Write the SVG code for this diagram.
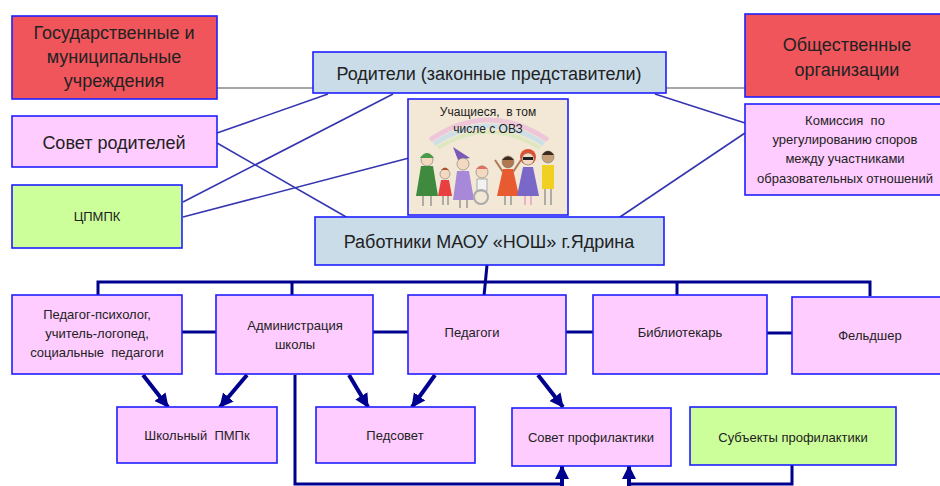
<svg xmlns="http://www.w3.org/2000/svg" width="940" height="486" viewBox="0 0 940 486">
<style>
.box{stroke:#1f1fff;stroke-width:1.6}
.red{fill:#f0555c}
.blue{fill:#c9dce8}
.pink{fill:#ffccff}
.green{fill:#ccff99}
text{font-family:"Liberation Sans",Arial,sans-serif;fill:#222;text-anchor:middle;white-space:pre}
.big{font-size:18px}
.sm{font-size:13px}
.thin{stroke:#3535b0;stroke-width:1.6;fill:none}
.gray{stroke:#888;stroke-width:1.6;fill:none}
.thick{stroke:#00008f;stroke-width:3;fill:none}
.arr{stroke:#00008f;stroke-width:4;fill:none;marker-end:url(#ah)}
</style>
<defs>
<marker id="ah" markerUnits="userSpaceOnUse" markerWidth="16" markerHeight="16" refX="13" refY="8" orient="auto">
<path d="M0,1 L14,8 L0,15 Z" fill="#00008f"/>
</marker>
</defs>
<rect width="940" height="486" fill="#fff"/>

<g id="connectors">
<line class="gray" x1="217" y1="88" x2="313" y2="88"/>
<line class="gray" x1="666" y1="88" x2="745" y2="88"/>
<line class="thin" x1="217" y1="133" x2="328" y2="94"/>
<line class="thin" x1="217" y1="143" x2="348" y2="218"/>
<line class="thin" x1="183" y1="202" x2="393" y2="94"/>
<line class="thin" x1="183" y1="217" x2="409" y2="158"/>
<line class="thin" x1="655" y1="94" x2="745" y2="123"/>
<line class="thin" x1="745" y1="133" x2="617" y2="219"/>
<polyline class="thick" points="98,296 98,282 870,282 870,296"/>
<line class="thick" x1="292" y1="282" x2="292" y2="296"/>
<line class="thick" x1="677" y1="282" x2="677" y2="296"/>
<line class="thick" x1="487" y1="265" x2="484" y2="296"/>
<line class="thick" x1="182" y1="332" x2="216" y2="332"/>
<line class="thick" x1="373" y1="332" x2="408" y2="332"/>
<line class="thick" x1="566" y1="332" x2="593" y2="332"/>
<line class="thick" x1="767" y1="333" x2="792" y2="333"/>
<line class="arr" x1="143" y1="375" x2="168" y2="407"/>
<line class="arr" x1="247" y1="375" x2="220" y2="407"/>
<line class="arr" x1="349" y1="375" x2="368" y2="407"/>
<line class="arr" x1="435" y1="375" x2="412" y2="407"/>
<line class="arr" x1="538" y1="375" x2="563" y2="407"/>
<polyline class="thick" points="295,375 295,484 562,484"/>
<line class="arr" x1="562" y1="486" x2="562" y2="466"/>
<polyline class="thick" points="792,465 792,484 629,484"/>
<line class="arr" x1="629" y1="486" x2="629" y2="466"/>
</g>

<g id="gos">
<rect class="box red" x="12" y="16" width="205" height="83"/>
<text class="big" x="114" y="39">Государственные и</text>
<text class="big" x="114" y="63">муниципальные</text>
<text class="big" x="114" y="87">учреждения</text>
</g>
<g id="roditeli">
<rect class="box blue" x="313" y="52" width="353" height="41"/>
<text class="big" x="489" y="80">Родители (законные представители)</text>
</g>
<g id="obsh">
<rect class="box red" x="745" y="14" width="200" height="83"/>
<text class="big" x="847" y="51">Общественные</text>
<text class="big" x="847" y="76">организации</text>
</g>
<g id="sovet-rod">
<rect class="box pink" x="12" y="116" width="205" height="51"/>
<text class="big" x="114" y="149">Совет родителей</text>
</g>
<g id="cpmpk">
<rect class="box green" x="12" y="185" width="170" height="63"/>
<text class="sm" x="97" y="221">ЦПМПК</text>
</g>
<g id="komissiya">
<rect class="box pink" x="745" y="104" width="200" height="91"/>
<text class="sm" x="845" y="125">Комиссия  по</text>
<text class="sm" x="845" y="144">урегулированию споров</text>
<text class="sm" x="845" y="163">между участниками</text>
<text class="sm" x="845" y="183">образовательных отношений</text>
</g>
<g id="uchashiesya">
<rect class="box" x="408" y="99" width="160" height="116" fill="#f3e8d6"/>
<path d="M430,140 Q488,100 548,140" stroke="#e9b0d8" stroke-width="5" fill="none" opacity="0.6"/>
<path d="M434,144 Q488,108 544,144" stroke="#b8d8f0" stroke-width="5" fill="none" opacity="0.6"/>
<path d="M438,148 Q488,116 540,148" stroke="#d0e8b0" stroke-width="4" fill="none" opacity="0.6"/>
<text x="488" y="116" style="font-size:12px">Учащиеся,  в том</text>
<text x="488" y="133" style="font-size:12px">числе с ОВЗ</text>
<circle cx="427" cy="160" r="6" fill="#f3d9c0" stroke="#777" stroke-width="0.6"/>
<path d="M420,158 Q427,148 434,158 Z" fill="#4a9a4a"/>
<path d="M421,166 L433,166 L438,196 L416,196 Z" fill="#3f8a3f"/>
<line x1="423" y1="196" x2="423" y2="206" stroke="#999" stroke-width="1.5"/>
<line x1="431" y1="196" x2="431" y2="206" stroke="#999" stroke-width="1.5"/>
<circle cx="445" cy="174" r="5" fill="#f3d9c0" stroke="#777" stroke-width="0.6"/>
<path d="M441,170 Q445,165 449,170 Z" fill="#b05030"/>
<path d="M441,180 L449,180 L452,196 L438,196 Z" fill="#e84040"/>
<line x1="443" y1="196" x2="443" y2="205" stroke="#999" stroke-width="1.5"/>
<line x1="448" y1="196" x2="448" y2="205" stroke="#999" stroke-width="1.5"/>
<path d="M453,147 L470,158 L458,160 Z" fill="#7a5ab8"/>
<circle cx="463" cy="164" r="6" fill="#f3d9c0" stroke="#777" stroke-width="0.6"/>
<path d="M457,171 L469,171 L474,200 L453,200 Z" fill="#a888d8"/>
<line x1="460" y1="200" x2="460" y2="208" stroke="#999" stroke-width="1.5"/>
<line x1="467" y1="200" x2="467" y2="208" stroke="#999" stroke-width="1.5"/>
<circle cx="482" cy="172" r="6" fill="#f3d9c0" stroke="#777" stroke-width="0.6"/>
<path d="M476,169 Q482,162 488,169" fill="#e07060"/>
<rect x="477" y="179" width="10" height="12" fill="#f2f2f2" stroke="#999" stroke-width="0.8"/>
<circle cx="481" cy="197" r="7" fill="none" stroke="#aaa" stroke-width="2"/>
<circle cx="508" cy="162" r="6" fill="#b07850" stroke="#777" stroke-width="0.6"/>
<path d="M502,160 Q508,153 514,160 Z" fill="#3a2a20"/>
<line x1="503" y1="172" x2="495" y2="160" stroke="#b07850" stroke-width="2"/>
<line x1="513" y1="172" x2="521" y2="160" stroke="#b07850" stroke-width="2"/>
<path d="M503,169 L513,169 L519,196 L497,196 Z" fill="#e85a30"/>
<line x1="505" y1="196" x2="505" y2="205" stroke="#999" stroke-width="1.5"/>
<line x1="511" y1="196" x2="511" y2="205" stroke="#999" stroke-width="1.5"/>
<circle cx="528" cy="157" r="8" fill="#e05030"/>
<circle cx="528" cy="159" r="6" fill="#f3d9c0" stroke="#777" stroke-width="0.6"/>
<rect x="523" y="157" width="10" height="3" fill="#222"/>
<path d="M523,167 L533,167 L539,196 L517,196 Z" fill="#7a68c8"/>
<line x1="525" y1="196" x2="525" y2="205" stroke="#e8a0c0" stroke-width="1.5"/>
<line x1="531" y1="196" x2="531" y2="205" stroke="#e8a0c0" stroke-width="1.5"/>
<circle cx="548" cy="157" r="6" fill="#c8a078" stroke="#777" stroke-width="0.6"/>
<path d="M542,155 Q548,147 554,155 Z" fill="#3a2a20"/>
<rect x="542" y="165" width="12" height="24" fill="#f0d020"/>
<line x1="545" y1="189" x2="545" y2="205" stroke="#999" stroke-width="1.5"/>
<line x1="551" y1="189" x2="551" y2="205" stroke="#999" stroke-width="1.5"/>
</g>
<g id="rabotniki">
<rect class="box blue" x="315" y="217" width="349" height="48"/>
<text class="big" x="489" y="248">Работники МАОУ «НОШ» г.Ядрина</text>
</g>
<g id="pedagog-psiholog">
<rect class="box pink" x="12" y="295" width="170" height="79"/>
<text class="sm" x="97" y="319">Педагог-психолог,</text>
<text class="sm" x="97" y="338">учитель-логопед,</text>
<text class="sm" x="97" y="357">социальные  педагоги</text>
</g>
<g id="administraciya">
<rect class="box pink" x="216" y="295" width="157" height="79"/>
<text class="sm" x="295" y="330">Администрация</text>
<text class="sm" x="295" y="349">школы</text>
</g>
<g id="pedagogi">
<rect class="box pink" x="408" y="295" width="158" height="79"/>
<text class="sm" x="472" y="337">Педагоги</text>
</g>
<g id="bibliotekar">
<rect class="box pink" x="593" y="295" width="174" height="79"/>
<text class="sm" x="680" y="337">Библиотекарь</text>
</g>
<g id="feldsher">
<rect class="box pink" x="792" y="297" width="153" height="77"/>
<text class="sm" x="870" y="340">Фельдшер</text>
</g>
<g id="shk-pmpk">
<rect class="box pink" x="117" y="407" width="160" height="56"/>
<text class="sm" x="197" y="440">Школьный  ПМПк</text>
</g>
<g id="pedsovet">
<rect class="box pink" x="316" y="407" width="159" height="56"/>
<text class="sm" x="395" y="440">Педсовет</text>
</g>
<g id="sovet-prof">
<rect class="box pink" x="512" y="408" width="159" height="58"/>
<text class="sm" x="591" y="442">Совет профилактики</text>
</g>
<g id="subekty">
<rect class="box green" x="690" y="407" width="206" height="58"/>
<text class="sm" x="793" y="442">Субъекты профилактики</text>
</g>
</svg>
